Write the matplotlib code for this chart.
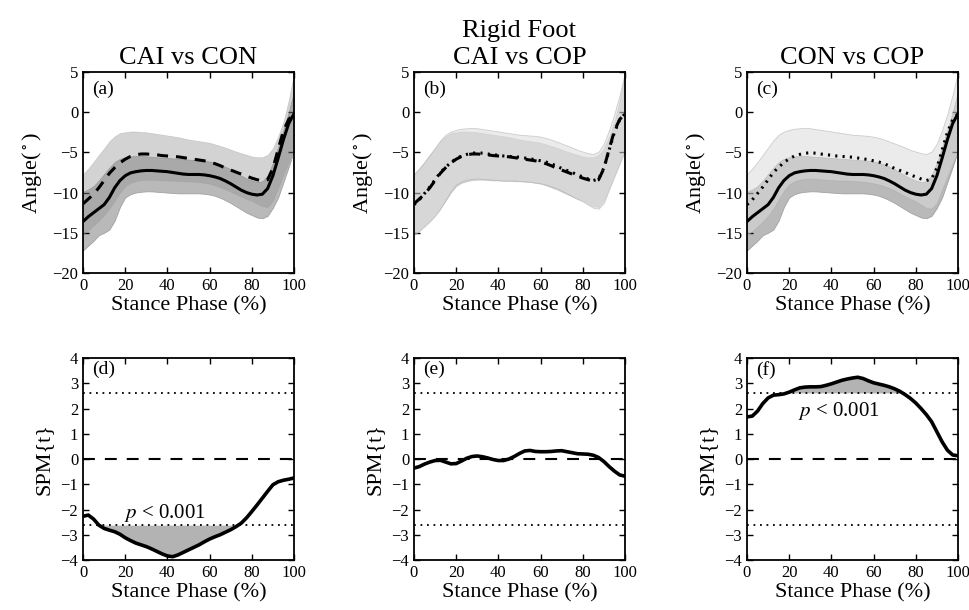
import numpy as np
import matplotlib
matplotlib.use("Agg")
import matplotlib.pyplot as plt

plt.rcParams['font.family'] = ['Liberation Serif', 'DejaVu Serif']
plt.rcParams['mathtext.fontset'] = 'stix'

# ---- stance phase sampling (% of stance) ----
stance = [0, 2.5, 5, 7.5, 10, 12.5, 15, 17.5, 20, 22.5, 25, 27.5, 30, 32.5, 35, 37.5,
          40, 42.5, 45, 47.5, 50, 52.5, 55, 57.5, 60, 62.5, 65, 67.5, 70, 72.5, 75,
          77.5, 80, 82.5, 85, 87.5, 90, 92.5, 95, 97.5, 100]

# ---- group mean angles (deg) ----
con_mean = [-13.6, -13.0, -12.5, -12.0, -11.5, -10.6, -9.4, -8.5, -7.9, -7.55, -7.4,
            -7.3, -7.25, -7.25, -7.3, -7.35, -7.4, -7.5, -7.6, -7.7, -7.75, -7.75,
            -7.75, -7.8, -7.9, -8.05, -8.25, -8.55, -8.9, -9.3, -9.7, -10.0, -10.2,
            -10.3, -10.2, -9.5, -7.9, -5.7, -3.4, -1.4, -0.2]
cai_mean = [-11.4, -10.8, -10.2, -9.4, -8.5, -7.6, -6.9, -6.3, -5.85, -5.5, -5.3,
            -5.2, -5.2, -5.25, -5.3, -5.4, -5.45, -5.5, -5.55, -5.65, -5.75, -5.85,
            -5.95, -6.05, -6.2, -6.4, -6.65, -6.95, -7.2, -7.45, -7.7, -7.95, -8.2,
            -8.4, -8.55, -8.4, -7.0, -4.6, -2.3, -0.9, -0.2]
cop_mean = [-11.5, -10.9, -10.1, -9.3, -8.4, -7.5, -6.85, -6.25, -5.8, -5.45, -5.25,
            -5.1, -5.05, -5.1, -5.2, -5.3, -5.35, -5.45, -5.5, -5.55, -5.6, -5.7,
            -5.8, -5.9, -6.05, -6.2, -6.4, -6.7, -7.0, -7.25, -7.5, -7.8, -8.05,
            -8.3, -8.5, -8.3, -6.95, -4.7, -2.5, -0.95, -0.2]

# ---- band limits (deg) ----
con_upper = [-9.9, -9.6, -9.2, -8.5, -7.7, -6.9, -6.2, -5.8, -5.6, -5.5, -5.45,
             -5.45, -5.5, -5.55, -5.6, -5.65, -5.7, -5.75, -5.8, -5.85, -5.9, -5.95,
             -6.0, -6.05, -6.15, -6.3, -6.5, -6.8, -7.1, -7.5, -7.9, -8.25, -8.5,
             -8.7, -8.6, -7.9, -6.3, -4.3, -2.2, 0.0, 2.6]
con_lower = [-17.2, -16.6, -16.0, -15.3, -15.0, -14.6, -13.5, -11.8, -10.6, -10.2,
             -10.0, -9.9, -9.85, -9.85, -9.9, -9.95, -10.0, -10.05, -10.1, -10.1,
             -10.1, -10.1, -10.1, -10.15, -10.25, -10.4, -10.65, -10.95, -11.3,
             -11.7, -12.1, -12.5, -12.8, -13.1, -13.2, -12.9, -11.9, -10.6, -8.7,
             -6.8, -4.8]
cai_upper = [-7.7, -7.0, -6.2, -5.3, -4.5, -3.6, -3.0, -2.6, -2.5, -2.4, -2.4,
             -2.45, -2.5, -2.6, -2.7, -2.8, -2.9, -3.0, -3.1, -3.25, -3.4, -3.5,
             -3.6, -3.7, -3.8, -4.0, -4.2, -4.4, -4.65, -4.9, -5.1, -5.3, -5.5,
             -5.6, -5.6, -5.3, -4.5, -3.0, -1.2, 1.5, 4.8]
cai_lower = [-15.2, -14.7, -14.1, -13.5, -12.8, -12.0, -11.0, -10.0, -9.2, -8.8,
             -8.6, -8.45, -8.4, -8.4, -8.45, -8.5, -8.5, -8.55, -8.55, -8.6, -8.6,
             -8.65, -8.7, -8.8, -8.9, -9.1, -9.35, -9.6, -9.9, -10.2, -10.5, -10.8,
             -11.0, -11.4, -11.7, -11.8, -11.0, -9.4, -7.8, -6.2, -4.6]
cop_upper = [-7.7, -7.0, -6.2, -5.3, -4.4, -3.5, -2.8, -2.4, -2.2, -2.05, -2.0,
             -1.95, -2.0, -2.1, -2.2, -2.3, -2.4, -2.5, -2.6, -2.7, -2.8, -2.85,
             -2.9, -2.95, -3.05, -3.2, -3.4, -3.65, -3.9, -4.15, -4.4, -4.7, -4.9,
             -5.1, -5.2, -4.9, -3.9, -2.2, -0.2, 2.2, 5.0]
cop_lower = [-15.3, -14.8, -14.2, -13.6, -12.9, -12.0, -10.9, -9.8, -9.0, -8.6,
             -8.4, -8.3, -8.25, -8.3, -8.35, -8.4, -8.45, -8.5, -8.5, -8.5, -8.55,
             -8.6, -8.65, -8.75, -8.85, -9.0, -9.2, -9.45, -9.75, -10.1, -10.45,
             -10.8, -11.1, -11.5, -11.9, -12.0, -11.3, -9.6, -8.0, -6.4, -4.9]

# ---- SPM{t} trajectories ----
spm_cai_con = [-2.27, -2.22, -2.38, -2.62, -2.75, -2.82, -2.88, -2.98, -3.12, -3.23,
               -3.33, -3.4, -3.47, -3.56, -3.66, -3.76, -3.84, -3.87, -3.8, -3.7,
               -3.6, -3.5, -3.4, -3.28, -3.17, -3.08, -3.0, -2.9, -2.8, -2.68, -2.54,
               -2.33, -2.08, -1.82, -1.55, -1.28, -1.02, -0.9, -0.84, -0.8, -0.75]
spm_cai_cop = [-0.36, -0.3, -0.2, -0.12, -0.06, -0.05, -0.12, -0.19, -0.18, -0.08,
               0.03, 0.1, 0.12, 0.09, 0.04, -0.02, -0.06, -0.06, 0.0, 0.1, 0.22,
               0.32, 0.34, 0.3, 0.29, 0.29, 0.3, 0.32, 0.33, 0.29, 0.25, 0.21, 0.2,
               0.19, 0.15, 0.06, -0.1, -0.3, -0.48, -0.63, -0.68]
spm_con_cop = [1.67, 1.7, 1.9, 2.2, 2.42, 2.53, 2.55, 2.58, 2.65, 2.74, 2.82, 2.85,
               2.86, 2.86, 2.87, 2.92, 2.98, 3.05, 3.12, 3.17, 3.21, 3.24, 3.19, 3.1,
               3.02, 2.97, 2.92, 2.86, 2.78, 2.68, 2.55, 2.4, 2.22, 2.0, 1.76, 1.48,
               1.08, 0.68, 0.35, 0.16, 0.13]
spm_threshold = 2.62

angle_ticks = [-20, -15, -10, -5, 0, 5]
spm_ticks = [-4, -3, -2, -1, 0, 1, 2, 3, 4]
phase_ticks = [0, 20, 40, 60, 80, 100]

# ---- styles ----
LW = 2.2
DASHED = (0, (3.6, 2.6))
DOTTED = (0, (0.7, 1.7))
CON_FILL = dict(color='#b9b9b9', alpha=1.0, lw=0.5, edgecolor='#9a9a9a')
CAI_FILL = dict(color=(0.565, 0.565, 0.565), alpha=0.39, lw=0.5, edgecolor='#9a9a9a')
COP_FILL = dict(color=(0.86, 0.86, 0.86), alpha=0.535, lw=0.6, edgecolor='#aaaaaa')

fig = plt.figure(figsize=(9.7, 6.1), dpi=100)
lefts = [0.0856, 0.4268, 0.7701]
W = 0.2175
top_axes = [fig.add_axes([l, 0.5525, W, 0.3295]) for l in lefts]
bot_axes = [fig.add_axes([l, 0.082, W, 0.331]) for l in lefts]


def style(ax, yticks, ylabel, lpad):
    ax.set_xlim(0, 100)
    ax.set_ylim(yticks[0], yticks[-1])
    ax.set_xticks(phase_ticks)
    ax.set_yticks(yticks)
    ax.tick_params(direction='in', top=True, right=True, length=4.5, width=1.0,
                   labelsize=12, pad=3.5)
    for s in ax.spines.values():
        s.set_linewidth(1.3)
    ax.set_xlabel('Stance Phase (%)', fontsize=16, labelpad=2)
    ax.set_ylabel(ylabel, fontsize=16, labelpad=lpad)


# (a) CAI vs CON
ax = top_axes[0]
ax.fill_between(stance, con_lower, con_upper, zorder=1, **CON_FILL)
ax.fill_between(stance, cai_lower, cai_upper, zorder=2, **CAI_FILL)
ax.plot(stance, con_mean, color='k', lw=LW, zorder=4)
ax.plot(stance, cai_mean, color='k', lw=LW, ls=DASHED, zorder=5)
ax.set_title('CAI vs CON', fontsize=19, pad=6)

# (b) CAI vs COP
ax = top_axes[1]
ax.fill_between(stance, cai_lower, cai_upper, zorder=1, **CAI_FILL)
ax.fill_between(stance, cop_lower, cop_upper, zorder=2, **COP_FILL)
ax.plot(stance, cai_mean, color='k', lw=LW, ls=DASHED, zorder=4)
ax.plot(stance, cop_mean, color='k', lw=LW, ls=DOTTED, zorder=5)
ax.set_title('Rigid Foot\nCAI vs COP', fontsize=19, pad=6, linespacing=1.25)

# (c) CON vs COP
ax = top_axes[2]
ax.fill_between(stance, con_lower, con_upper, zorder=1, **CON_FILL)
ax.fill_between(stance, cop_lower, cop_upper, zorder=2, **COP_FILL)
ax.plot(stance, con_mean, color='k', lw=LW, zorder=4)
ax.plot(stance, cop_mean, color='k', lw=LW, ls=DOTTED, zorder=5)
ax.set_title('CON vs COP', fontsize=19, pad=6)

for ax, lab in zip(top_axes, ['(a)', '(b)', '(c)']):
    style(ax, angle_ticks, r'Angle($\,^{\circ}\,$)', 6)
    ax.text(0.045, 0.955, lab, transform=ax.transAxes, ha='left', va='top', fontsize=14)

# SPM panels
spm_series = [spm_cai_con, spm_cai_cop, spm_con_cop]
for ax, t, lab in zip(bot_axes, spm_series, ['(d)', '(e)', '(f)']):
    t = np.asarray(t)
    ax.axhline(spm_threshold, color='k', lw=1.3, ls=(0, (1, 2.6)), zorder=2)
    ax.axhline(-spm_threshold, color='k', lw=1.3, ls=(0, (1, 2.6)), zorder=2)
    ax.axhline(0, color='k', lw=1.5, ls=(0, (5.7, 4.8)), zorder=2)
    ax.fill_between(stance, t, spm_threshold, where=t > spm_threshold,
                    interpolate=True, color='#b3b3b3', lw=0, zorder=1)
    ax.fill_between(stance, t, -spm_threshold, where=t < -spm_threshold,
                    interpolate=True, color='#b3b3b3', lw=0, zorder=1)
    ax.plot(stance, t, color='k', lw=2.6, zorder=3)
    style(ax, spm_ticks, 'SPM{t}', 5)
    ax.text(0.045, 0.985, lab, transform=ax.transAxes, ha='left', va='top', fontsize=14)

bot_axes[0].text(39, -2.35, r'$p$ < 0.001', ha='center', va='baseline', fontsize=15)
bot_axes[2].text(43.5, 1.72, r'$p$ < 0.001', ha='center', va='baseline', fontsize=15)

fig.savefig('out.png', dpi=100)
